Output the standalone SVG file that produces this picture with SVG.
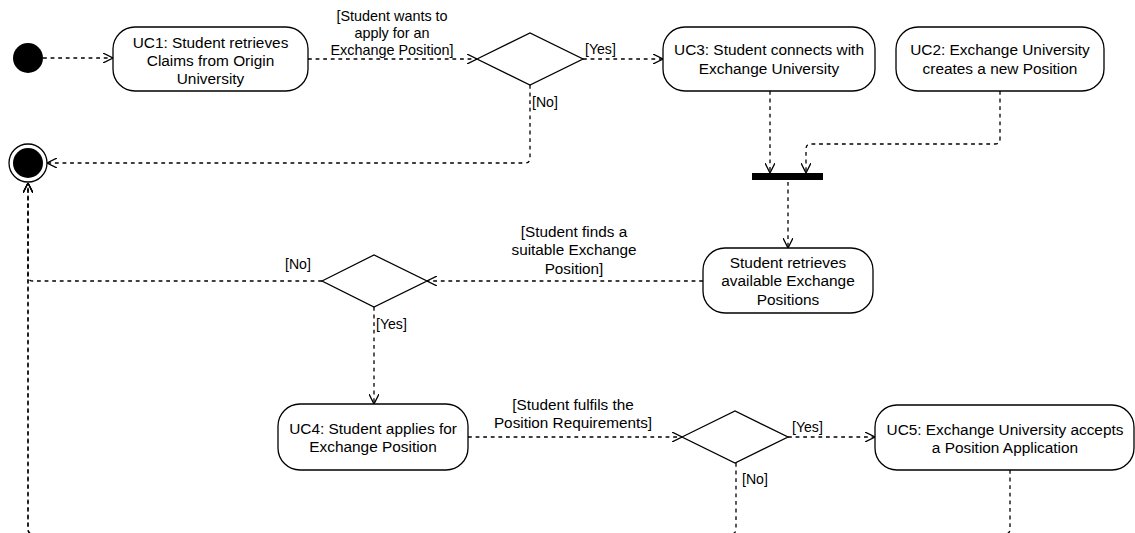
<svg xmlns="http://www.w3.org/2000/svg" width="1135" height="533" viewBox="0 0 1135 533">
  <defs>
    <style>
      .node { fill: #ffffff; stroke: #000000; stroke-width: 1.3; }
      .solid { fill: #000000; }
      .ring { fill: none; stroke: #000000; stroke-width: 1.3; }
      .lbl { font-family: "Liberation Sans", Arial, Helvetica, sans-serif; font-size: 15.4px; fill: #000000; text-anchor: middle; }
      .elbl { font-family: "Liberation Sans", Arial, Helvetica, sans-serif; font-size: 14.1px; fill: #000000; }
      .big { font-size: 15.3px; }
      .mid { text-anchor: middle; }
      .flow { fill: none; stroke: #000000; stroke-width: 1.3; stroke-dasharray: 3.8 3.8; marker-end: url(#open); }
    </style>
    <marker id="open" viewBox="0 0 10 10" refX="10" refY="5" markerWidth="10" markerHeight="10" markerUnits="userSpaceOnUse" orient="auto">
      <path d="M0,0 L10,5 L0,10" fill="none" stroke="#000000" stroke-width="1.3" stroke-dasharray="none"/>
    </marker>
  </defs>

  <!-- control flows -->
  <g id="connectors">
    <path class="flow" d="M43,58 H113"/>
    <path class="flow" d="M308,59 H477"/>
    <path class="flow" d="M583,59 H663"/>
    <path class="flow" d="M530,85 V158 Q530,163 525,163 H47"/>
    <path class="flow" d="M770,91 V173"/>
    <path class="flow" d="M1000,91 V139 Q1000,144 995,144 H811 Q806,144 806,149 V173"/>
    <path class="flow" d="M788,182 V248"/>
    <path class="flow" d="M703,281 H427"/>
    <path class="flow" d="M322,281 H33 Q28,281 28,276 V183"/>
    <path class="flow" d="M374,307 V404"/>
    <path class="flow" d="M468,437 H682"/>
    <path class="flow" d="M788,437 H875"/>
    <path class="flow" d="M736,463 V529 Q736,534 731,534 H33 Q28,534 28,529 V183"/>
    <path class="flow" d="M1010,470 V529 Q1010,534 1005,534 H33 Q28,534 28,529 V183"/>

    <text class="elbl mid" x="392" y="20.5" style="font-size:14.4px">[Student wants to</text>
    <text class="elbl mid" x="392" y="37.5" style="font-size:14.4px">apply for an</text>
    <text class="elbl mid" x="392" y="54.5" style="font-size:14.4px">Exchange Position]</text>
    <text class="elbl" x="585" y="54">[Yes]</text>
    <text class="elbl" x="532" y="107">[No]</text>
    <text class="elbl big mid" x="574" y="237">[Student finds a</text>
    <text class="elbl big mid" x="574" y="255.4">suitable Exchange</text>
    <text class="elbl big mid" x="574" y="273.8">Position]</text>
    <text class="elbl" x="285" y="269">[No]</text>
    <text class="elbl" x="376" y="329">[Yes]</text>
    <text class="elbl big mid" x="573" y="410">[Student fulfils the</text>
    <text class="elbl big mid" x="573" y="428.4">Position Requirements]</text>
    <text class="elbl" x="792" y="432">[Yes]</text>
    <text class="elbl" x="742" y="484">[No]</text>
  </g>

  <g id="start">
    <circle class="solid" cx="28" cy="58" r="15"/>
  </g>

  <g id="end">
    <circle class="ring" cx="28" cy="163" r="19"/>
    <circle class="solid" cx="28" cy="163" r="15"/>
  </g>

  <g id="uc1">
    <rect class="node" x="113" y="27" width="195" height="64" rx="22" ry="22"/>
    <text class="lbl" x="210.5" y="47.5">UC1: Student retrieves</text>
    <text class="lbl" x="210.5" y="65.9">Claims from Origin</text>
    <text class="lbl" x="210.5" y="84.3">University</text>
  </g>

  <g id="decision-apply">
    <path class="node" d="M477,59 L530,33 L583,59 L530,85 Z"/>
  </g>

  <g id="uc3">
    <rect class="node" x="663" y="27" width="212" height="64" rx="22" ry="22"/>
    <text class="lbl" x="769" y="55.2">UC3: Student connects with</text>
    <text class="lbl" x="769" y="73.6">Exchange University</text>
  </g>

  <g id="uc2">
    <rect class="node" x="896" y="27" width="208" height="64" rx="22" ry="22"/>
    <text class="lbl" x="1000" y="55.2">UC2: Exchange University</text>
    <text class="lbl" x="1000" y="73.6">creates a new Position</text>
  </g>

  <g id="join">
    <rect class="solid" x="752" y="173" width="71" height="7"/>
  </g>

  <g id="retrieve-positions">
    <rect class="node" x="703" y="248" width="170" height="65" rx="22" ry="22"/>
    <text class="lbl" x="788" y="268">Student retrieves</text>
    <text class="lbl" x="788" y="286.4">available Exchange</text>
    <text class="lbl" x="788" y="304.8">Positions</text>
  </g>

  <g id="decision-suitable">
    <path class="node" d="M322,281 L374,255 L427,281 L374,307 Z"/>
  </g>

  <g id="uc4">
    <rect class="node" x="278" y="404" width="190" height="66" rx="22" ry="22"/>
    <text class="lbl" x="373" y="434">UC4: Student applies for</text>
    <text class="lbl" x="373" y="452.4">Exchange Position</text>
  </g>

  <g id="decision-requirements">
    <path class="node" d="M682,437 L735,411 L788,437 L735,463 Z"/>
  </g>

  <g id="uc5">
    <rect class="node" x="875" y="405" width="259" height="65" rx="22" ry="22"/>
    <text class="lbl" x="1005" y="434.5">UC5: Exchange University accepts</text>
    <text class="lbl" x="1005" y="452.9">a Position Application</text>
  </g>
</svg>
